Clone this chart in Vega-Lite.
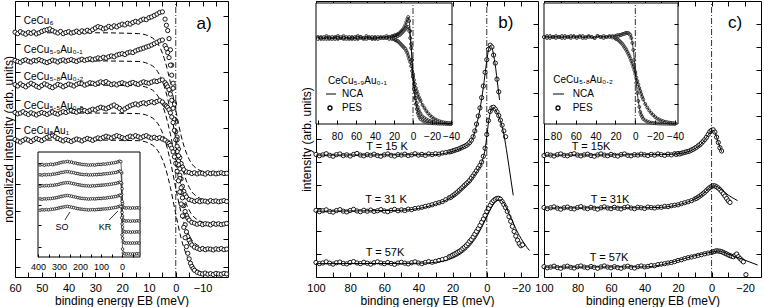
{
"$schema": "https://vega.github.io/schema/vega-lite/v6.json",
"width": 764, "height": 307, "autosize": "none", "padding": 0, "background": "white",
"config": {"view": {"stroke": null}, "font": "Liberation Sans",
 "axis": {"grid": false, "domainColor": "black", "tickColor": "black", "labelColor": "black", "titleColor": "black", "labelFont": "Liberation Sans", "titleFont": "Liberation Sans", "labelFontSize": 11, "titleFontSize": 12, "titleFontWeight": "normal", "tickSize": -5, "labelPadding": 10, "titlePadding": 2, "labelFlush": false, "labelOverlap": false, "domainWidth": 1, "tickWidth": 1},
 "text": {"font": "Liberation Sans", "color": "black"}},
"datasets": {
"am": [
{"s":0,"e":60,"y":8.43},{"s":0,"e":59,"y":8.38},{"s":0,"e":58,"y":8.45},{"s":0,"e":57,"y":8.40},{"s":0,"e":56,"y":8.36},{"s":0,"e":55,"y":8.42},{"s":0,"e":54,"y":8.39},{"s":0,"e":53,"y":8.44},{"s":0,"e":52,"y":8.37},{"s":0,"e":51,"y":8.41},{"s":0,"e":50,"y":8.46},{"s":0,"e":49,"y":8.50},{"s":0,"e":48,"y":8.52},{"s":0,"e":47,"y":8.55},{"s":0,"e":46,"y":8.49},{"s":0,"e":45,"y":8.44},{"s":0,"e":44,"y":8.40},{"s":0,"e":43,"y":8.46},{"s":0,"e":42,"y":8.38},{"s":0,"e":41,"y":8.42},{"s":0,"e":40,"y":8.45},{"s":0,"e":39,"y":8.40},{"s":0,"e":38,"y":8.43},{"s":0,"e":37,"y":8.47},{"s":0,"e":36,"y":8.42},{"s":0,"e":35,"y":8.48},{"s":0,"e":34,"y":8.44},{"s":0,"e":33,"y":8.50},{"s":0,"e":32,"y":8.46},{"s":0,"e":31,"y":8.52},{"s":0,"e":30,"y":8.58},{"s":0,"e":29,"y":8.63},{"s":0,"e":28,"y":8.60},{"s":0,"e":27,"y":8.55},{"s":0,"e":26,"y":8.58},{"s":0,"e":25,"y":8.64},{"s":0,"e":24,"y":8.60},{"s":0,"e":23,"y":8.66},{"s":0,"e":22,"y":8.62},{"s":0,"e":21,"y":8.68},{"s":0,"e":20,"y":8.72},{"s":0,"e":19,"y":8.69},{"s":0,"e":18,"y":8.75},{"s":0,"e":17,"y":8.72},{"s":0,"e":16,"y":8.78},{"s":0,"e":15,"y":8.82},{"s":0,"e":14,"y":8.79},{"s":0,"e":13,"y":8.86},{"s":0,"e":12,"y":8.90},{"s":0,"e":11,"y":8.88},{"s":0,"e":10,"y":8.95},{"s":0,"e":9,"y":8.98},{"s":0,"e":8,"y":9.03},{"s":0,"e":7,"y":9.08},{"s":0,"e":6,"y":9.14},{"s":0,"e":5,"y":9.16},{"s":0,"e":4,"y":8.90},{"s":0,"e":3.5,"y":8.68},{"s":0,"e":3,"y":8.49},{"s":0,"e":2.5,"y":8.20},{"s":0,"e":2,"y":7.80},{"s":0,"e":1.5,"y":7.25},{"s":0,"e":1,"y":6.60},{"s":0,"e":0.5,"y":5.90},{"s":0,"e":0,"y":5.24},{"s":0,"e":-0.5,"y":4.67},{"s":0,"e":-1,"y":4.24},{"s":0,"e":-1.5,"y":3.93},{"s":0,"e":-2,"y":3.72},{"s":0,"e":-2.5,"y":3.59},{"s":0,"e":-3,"y":3.50},{"s":0,"e":-4,"y":3.42},{"s":0,"e":-5,"y":3.40},{"s":0,"e":-6,"y":3.36},{"s":0,"e":-7,"y":3.39},{"s":0,"e":-8,"y":3.35},{"s":0,"e":-9,"y":3.38},{"s":0,"e":-10,"y":3.37},{"s":0,"e":-11,"y":3.34},{"s":0,"e":-12,"y":3.39},{"s":0,"e":-13,"y":3.36},{"s":0,"e":-14,"y":3.38},{"s":0,"e":-15,"y":3.35},{"s":0,"e":-16,"y":3.37},{"s":0,"e":-17,"y":3.39},{"s":0,"e":-18,"y":3.36},{"s":0,"e":-19,"y":3.37},
{"s":1,"e":60,"y":7.42},{"s":1,"e":59,"y":7.38},{"s":1,"e":58,"y":7.35},{"s":1,"e":57,"y":7.41},{"s":1,"e":56,"y":7.44},{"s":1,"e":55,"y":7.39},{"s":1,"e":54,"y":7.36},{"s":1,"e":53,"y":7.42},{"s":1,"e":52,"y":7.40},{"s":1,"e":51,"y":7.45},{"s":1,"e":50,"y":7.41},{"s":1,"e":49,"y":7.37},{"s":1,"e":48,"y":7.34},{"s":1,"e":47,"y":7.38},{"s":1,"e":46,"y":7.43},{"s":1,"e":45,"y":7.40},{"s":1,"e":44,"y":7.36},{"s":1,"e":43,"y":7.41},{"s":1,"e":42,"y":7.44},{"s":1,"e":41,"y":7.39},{"s":1,"e":40,"y":7.42},{"s":1,"e":39,"y":7.45},{"s":1,"e":38,"y":7.41},{"s":1,"e":37,"y":7.38},{"s":1,"e":36,"y":7.43},{"s":1,"e":35,"y":7.46},{"s":1,"e":34,"y":7.42},{"s":1,"e":33,"y":7.45},{"s":1,"e":32,"y":7.48},{"s":1,"e":31,"y":7.44},{"s":1,"e":30,"y":7.47},{"s":1,"e":29,"y":7.51},{"s":1,"e":28,"y":7.48},{"s":1,"e":27,"y":7.53},{"s":1,"e":26,"y":7.50},{"s":1,"e":25,"y":7.55},{"s":1,"e":24,"y":7.58},{"s":1,"e":23,"y":7.55},{"s":1,"e":22,"y":7.61},{"s":1,"e":21,"y":7.64},{"s":1,"e":20,"y":7.66},{"s":1,"e":19,"y":7.63},{"s":1,"e":18,"y":7.69},{"s":1,"e":17,"y":7.72},{"s":1,"e":16,"y":7.70},{"s":1,"e":15,"y":7.76},{"s":1,"e":14,"y":7.80},{"s":1,"e":13,"y":7.83},{"s":1,"e":12,"y":7.86},{"s":1,"e":11,"y":7.90},{"s":1,"e":10,"y":7.93},{"s":1,"e":9,"y":7.97},{"s":1,"e":8,"y":8.02},{"s":1,"e":7,"y":8.07},{"s":1,"e":6,"y":8.12},{"s":1,"e":5,"y":8.15},{"s":1,"e":4,"y":7.95},{"s":1,"e":3.5,"y":7.85},{"s":1,"e":3,"y":7.70},{"s":1,"e":2.5,"y":7.52},{"s":1,"e":2,"y":7.25},{"s":1,"e":1.5,"y":6.89},{"s":1,"e":1,"y":6.42},{"s":1,"e":0.5,"y":5.85},{"s":1,"e":0,"y":5.21},{"s":1,"e":-0.5,"y":4.57},{"s":1,"e":-1,"y":4.00},{"s":1,"e":-1.5,"y":3.53},{"s":1,"e":-2,"y":3.17},{"s":1,"e":-2.5,"y":2.90},{"s":1,"e":-3,"y":2.72},{"s":1,"e":-3.5,"y":2.60},{"s":1,"e":-4,"y":2.52},{"s":1,"e":-5,"y":2.43},{"s":1,"e":-6,"y":2.40},{"s":1,"e":-7,"y":2.36},{"s":1,"e":-8,"y":2.39},{"s":1,"e":-9,"y":2.35},{"s":1,"e":-10,"y":2.38},{"s":1,"e":-11,"y":2.37},{"s":1,"e":-12,"y":2.34},{"s":1,"e":-13,"y":2.39},{"s":1,"e":-14,"y":2.36},{"s":1,"e":-15,"y":2.38},{"s":1,"e":-16,"y":2.35},{"s":1,"e":-17,"y":2.37},{"s":1,"e":-18,"y":2.39},{"s":1,"e":-19,"y":2.36},
{"s":2,"e":60,"y":6.55},{"s":2,"e":59,"y":6.50},{"s":2,"e":58,"y":6.58},{"s":2,"e":57,"y":6.52},{"s":2,"e":56,"y":6.47},{"s":2,"e":55,"y":6.54},{"s":2,"e":54,"y":6.60},{"s":2,"e":53,"y":6.55},{"s":2,"e":52,"y":6.49},{"s":2,"e":51,"y":6.45},{"s":2,"e":50,"y":6.52},{"s":2,"e":49,"y":6.58},{"s":2,"e":48,"y":6.54},{"s":2,"e":47,"y":6.48},{"s":2,"e":46,"y":6.44},{"s":2,"e":45,"y":6.50},{"s":2,"e":44,"y":6.56},{"s":2,"e":43,"y":6.53},{"s":2,"e":42,"y":6.47},{"s":2,"e":41,"y":6.52},{"s":2,"e":40,"y":6.57},{"s":2,"e":39,"y":6.54},{"s":2,"e":38,"y":6.50},{"s":2,"e":37,"y":6.56},{"s":2,"e":36,"y":6.60},{"s":2,"e":35,"y":6.58},{"s":2,"e":34,"y":6.53},{"s":2,"e":33,"y":6.57},{"s":2,"e":32,"y":6.62},{"s":2,"e":31,"y":6.60},{"s":2,"e":30,"y":6.56},{"s":2,"e":29,"y":6.61},{"s":2,"e":28,"y":6.65},{"s":2,"e":27,"y":6.62},{"s":2,"e":26,"y":6.66},{"s":2,"e":25,"y":6.60},{"s":2,"e":24,"y":6.55},{"s":2,"e":23,"y":6.58},{"s":2,"e":22,"y":6.54},{"s":2,"e":21,"y":6.59},{"s":2,"e":20,"y":6.62},{"s":2,"e":19,"y":6.58},{"s":2,"e":18,"y":6.55},{"s":2,"e":17,"y":6.60},{"s":2,"e":16,"y":6.63},{"s":2,"e":15,"y":6.59},{"s":2,"e":14,"y":6.56},{"s":2,"e":13,"y":6.61},{"s":2,"e":12,"y":6.65},{"s":2,"e":11,"y":6.62},{"s":2,"e":10,"y":6.60},{"s":2,"e":9,"y":6.64},{"s":2,"e":8,"y":6.68},{"s":2,"e":7,"y":6.66},{"s":2,"e":6,"y":6.70},{"s":2,"e":5,"y":6.72},{"s":2,"e":4,"y":6.62},{"s":2,"e":3.5,"y":6.55},{"s":2,"e":3,"y":6.47},{"s":2,"e":2.5,"y":6.37},{"s":2,"e":2,"y":6.21},{"s":2,"e":1.5,"y":5.99},{"s":2,"e":1,"y":5.70},{"s":2,"e":0.5,"y":5.31},{"s":2,"e":0,"y":4.86},{"s":2,"e":-0.5,"y":4.34},{"s":2,"e":-1,"y":3.81},{"s":2,"e":-1.5,"y":3.30},{"s":2,"e":-2,"y":2.85},{"s":2,"e":-2.5,"y":2.49},{"s":2,"e":-3,"y":2.21},{"s":2,"e":-3.5,"y":2.00},{"s":2,"e":-4,"y":1.86},{"s":2,"e":-4.5,"y":1.76},{"s":2,"e":-5,"y":1.69},{"s":2,"e":-6,"y":1.61},{"s":2,"e":-7,"y":1.58},{"s":2,"e":-8,"y":1.54},{"s":2,"e":-9,"y":1.57},{"s":2,"e":-10,"y":1.53},{"s":2,"e":-11,"y":1.56},{"s":2,"e":-12,"y":1.55},{"s":2,"e":-13,"y":1.52},{"s":2,"e":-14,"y":1.57},{"s":2,"e":-15,"y":1.54},{"s":2,"e":-16,"y":1.56},{"s":2,"e":-17,"y":1.53},{"s":2,"e":-18,"y":1.55},{"s":2,"e":-19,"y":1.57},
{"s":3,"e":60,"y":5.55},{"s":3,"e":59,"y":5.50},{"s":3,"e":58,"y":5.53},{"s":3,"e":57,"y":5.58},{"s":3,"e":56,"y":5.52},{"s":3,"e":55,"y":5.48},{"s":3,"e":54,"y":5.54},{"s":3,"e":53,"y":5.50},{"s":3,"e":52,"y":5.46},{"s":3,"e":51,"y":5.51},{"s":3,"e":50,"y":5.55},{"s":3,"e":49,"y":5.52},{"s":3,"e":48,"y":5.48},{"s":3,"e":47,"y":5.53},{"s":3,"e":46,"y":5.57},{"s":3,"e":45,"y":5.52},{"s":3,"e":44,"y":5.49},{"s":3,"e":43,"y":5.54},{"s":3,"e":42,"y":5.58},{"s":3,"e":41,"y":5.55},{"s":3,"e":40,"y":5.60},{"s":3,"e":39,"y":5.63},{"s":3,"e":38,"y":5.59},{"s":3,"e":37,"y":5.56},{"s":3,"e":36,"y":5.61},{"s":3,"e":35,"y":5.65},{"s":3,"e":34,"y":5.62},{"s":3,"e":33,"y":5.58},{"s":3,"e":32,"y":5.63},{"s":3,"e":31,"y":5.67},{"s":3,"e":30,"y":5.64},{"s":3,"e":29,"y":5.70},{"s":3,"e":28,"y":5.74},{"s":3,"e":27,"y":5.71},{"s":3,"e":26,"y":5.68},{"s":3,"e":25,"y":5.73},{"s":3,"e":24,"y":5.78},{"s":3,"e":23,"y":5.82},{"s":3,"e":22,"y":5.76},{"s":3,"e":21,"y":5.70},{"s":3,"e":20,"y":5.62},{"s":3,"e":19,"y":5.68},{"s":3,"e":18,"y":5.74},{"s":3,"e":17,"y":5.79},{"s":3,"e":16,"y":5.83},{"s":3,"e":15,"y":5.86},{"s":3,"e":14,"y":5.82},{"s":3,"e":13,"y":5.87},{"s":3,"e":12,"y":5.90},{"s":3,"e":11,"y":5.86},{"s":3,"e":10,"y":5.91},{"s":3,"e":9,"y":5.94},{"s":3,"e":8,"y":5.90},{"s":3,"e":7,"y":5.95},{"s":3,"e":6,"y":5.98},{"s":3,"e":5,"y":5.93},{"s":3,"e":4,"y":5.82},{"s":3,"e":3.5,"y":5.78},{"s":3,"e":3,"y":5.73},{"s":3,"e":2.5,"y":5.65},{"s":3,"e":2,"y":5.54},{"s":3,"e":1.5,"y":5.39},{"s":3,"e":1,"y":5.19},{"s":3,"e":0.5,"y":4.91},{"s":3,"e":0,"y":4.57},{"s":3,"e":-0.5,"y":4.15},{"s":3,"e":-1,"y":3.68},{"s":3,"e":-1.5,"y":3.18},{"s":3,"e":-2,"y":2.68},{"s":3,"e":-2.5,"y":2.23},{"s":3,"e":-3,"y":1.84},{"s":3,"e":-3.5,"y":1.52},{"s":3,"e":-4,"y":1.27},{"s":3,"e":-4.5,"y":1.10},{"s":3,"e":-5,"y":0.96},{"s":3,"e":-5.5,"y":0.87},{"s":3,"e":-6,"y":0.80},{"s":3,"e":-7,"y":0.72},{"s":3,"e":-8,"y":0.68},{"s":3,"e":-9,"y":0.64},{"s":3,"e":-10,"y":0.67},{"s":3,"e":-11,"y":0.63},{"s":3,"e":-12,"y":0.66},{"s":3,"e":-13,"y":0.65},{"s":3,"e":-14,"y":0.62},{"s":3,"e":-15,"y":0.66},{"s":3,"e":-16,"y":0.64},{"s":3,"e":-17,"y":0.67},{"s":3,"e":-18,"y":0.63},{"s":3,"e":-19,"y":0.65},
{"s":4,"e":60,"y":4.58},{"s":4,"e":59,"y":4.53},{"s":4,"e":58,"y":4.49},{"s":4,"e":57,"y":4.55},{"s":4,"e":56,"y":4.60},{"s":4,"e":55,"y":4.56},{"s":4,"e":54,"y":4.51},{"s":4,"e":53,"y":4.57},{"s":4,"e":52,"y":4.62},{"s":4,"e":51,"y":4.58},{"s":4,"e":50,"y":4.54},{"s":4,"e":49,"y":4.60},{"s":4,"e":48,"y":4.66},{"s":4,"e":47,"y":4.70},{"s":4,"e":46,"y":4.74},{"s":4,"e":45,"y":4.68},{"s":4,"e":44,"y":4.62},{"s":4,"e":43,"y":4.57},{"s":4,"e":42,"y":4.53},{"s":4,"e":41,"y":4.58},{"s":4,"e":40,"y":4.55},{"s":4,"e":39,"y":4.51},{"s":4,"e":38,"y":4.56},{"s":4,"e":37,"y":4.60},{"s":4,"e":36,"y":4.57},{"s":4,"e":35,"y":4.53},{"s":4,"e":34,"y":4.58},{"s":4,"e":33,"y":4.62},{"s":4,"e":32,"y":4.59},{"s":4,"e":31,"y":4.55},{"s":4,"e":30,"y":4.60},{"s":4,"e":29,"y":4.64},{"s":4,"e":28,"y":4.61},{"s":4,"e":27,"y":4.66},{"s":4,"e":26,"y":4.70},{"s":4,"e":25,"y":4.67},{"s":4,"e":24,"y":4.63},{"s":4,"e":23,"y":4.68},{"s":4,"e":22,"y":4.72},{"s":4,"e":21,"y":4.69},{"s":4,"e":20,"y":4.65},{"s":4,"e":19,"y":4.61},{"s":4,"e":18,"y":4.66},{"s":4,"e":17,"y":4.70},{"s":4,"e":16,"y":4.67},{"s":4,"e":15,"y":4.72},{"s":4,"e":14,"y":4.68},{"s":4,"e":13,"y":4.64},{"s":4,"e":12,"y":4.69},{"s":4,"e":11,"y":4.72},{"s":4,"e":10,"y":4.67},{"s":4,"e":9,"y":4.63},{"s":4,"e":8,"y":4.66},{"s":4,"e":7,"y":4.62},{"s":4,"e":6,"y":4.65},{"s":4,"e":5,"y":4.60},{"s":4,"e":4,"y":4.56},{"s":4,"e":3,"y":4.49},{"s":4,"e":2.5,"y":4.44},{"s":4,"e":2,"y":4.37},{"s":4,"e":1.5,"y":4.27},{"s":4,"e":1,"y":4.14},{"s":4,"e":0.5,"y":3.96},{"s":4,"e":0,"y":3.73},{"s":4,"e":-0.5,"y":3.44},{"s":4,"e":-1,"y":3.10},{"s":4,"e":-1.5,"y":2.70},{"s":4,"e":-2,"y":2.27},{"s":4,"e":-2.5,"y":1.84},{"s":4,"e":-3,"y":1.43},{"s":4,"e":-3.5,"y":1.06},{"s":4,"e":-4,"y":0.74},{"s":4,"e":-4.5,"y":0.50},{"s":4,"e":-5,"y":0.30},{"s":4,"e":-5.5,"y":0.14},{"s":4,"e":-6,"y":0.03},{"s":4,"e":-6.5,"y":-0.05},{"s":4,"e":-7,"y":-0.11},{"s":4,"e":-8,"y":-0.18},{"s":4,"e":-9,"y":-0.22},{"s":4,"e":-10,"y":-0.24},{"s":4,"e":-11,"y":-0.21},{"s":4,"e":-12,"y":-0.25},{"s":4,"e":-13,"y":-0.23},{"s":4,"e":-14,"y":-0.26},{"s":4,"e":-15,"y":-0.22},{"s":4,"e":-16,"y":-0.24},{"s":4,"e":-17,"y":-0.25},{"s":4,"e":-18,"y":-0.22},{"s":4,"e":-19,"y":-0.24}
],
"ad": [
{"s":0,"e":60,"y":8.41},{"s":0,"e":30,"y":8.41},{"s":0,"e":14,"y":8.38},{"s":0,"e":10,"y":8.29},{"s":0,"e":8,"y":8.17},{"s":0,"e":6,"y":7.90},{"s":0,"e":4,"y":7.40},{"s":0,"e":2,"y":6.62},{"s":0,"e":0,"y":5.63},{"s":0,"e":-2,"y":4.72},{"s":0,"e":-4,"y":4.09},{"s":0,"e":-6,"y":3.71},{"s":0,"e":-8,"y":3.53},{"s":0,"e":-10,"y":3.44},{"s":0,"e":-14,"y":3.38},
{"s":1,"e":60,"y":7.40},{"s":1,"e":30,"y":7.40},{"s":1,"e":14,"y":7.38},{"s":1,"e":10,"y":7.29},{"s":1,"e":8,"y":7.17},{"s":1,"e":6,"y":6.89},{"s":1,"e":4,"y":6.40},{"s":1,"e":2,"y":5.62},{"s":1,"e":0,"y":4.63},{"s":1,"e":-2,"y":3.72},{"s":1,"e":-4,"y":3.09},{"s":1,"e":-6,"y":2.71},{"s":1,"e":-8,"y":2.53},{"s":1,"e":-10,"y":2.44},{"s":1,"e":-14,"y":2.38},
{"s":2,"e":60,"y":6.53},{"s":2,"e":30,"y":6.53},{"s":2,"e":14,"y":6.51},{"s":2,"e":10,"y":6.42},{"s":2,"e":8,"y":6.30},{"s":2,"e":6,"y":6.03},{"s":2,"e":4,"y":5.54},{"s":2,"e":2,"y":4.77},{"s":2,"e":0,"y":3.79},{"s":2,"e":-2,"y":2.89},{"s":2,"e":-4,"y":2.26},{"s":2,"e":-6,"y":1.89},{"s":2,"e":-8,"y":1.71},{"s":2,"e":-10,"y":1.62},{"s":2,"e":-14,"y":1.56},
{"s":3,"e":60,"y":5.53},{"s":3,"e":30,"y":5.53},{"s":3,"e":14,"y":5.51},{"s":3,"e":10,"y":5.42},{"s":3,"e":8,"y":5.30},{"s":3,"e":6,"y":5.04},{"s":3,"e":4,"y":4.56},{"s":3,"e":2,"y":3.80},{"s":3,"e":0,"y":2.84},{"s":3,"e":-2,"y":1.96},{"s":3,"e":-4,"y":1.35},{"s":3,"e":-6,"y":0.98},{"s":3,"e":-8,"y":0.80},{"s":3,"e":-10,"y":0.72},{"s":3,"e":-14,"y":0.66},
{"s":4,"e":60,"y":4.56},{"s":4,"e":30,"y":4.56},{"s":4,"e":14,"y":4.54},{"s":4,"e":10,"y":4.45},{"s":4,"e":8,"y":4.33},{"s":4,"e":6,"y":4.07},{"s":4,"e":4,"y":3.61},{"s":4,"e":2,"y":2.86},{"s":4,"e":0,"y":1.91},{"s":4,"e":-2,"y":1.04},{"s":4,"e":-4,"y":0.44},{"s":4,"e":-6,"y":0.08},{"s":4,"e":-8,"y":-0.10},{"s":4,"e":-10,"y":-0.18},{"s":4,"e":-14,"y":-0.24}
],
"ai": [
{"s":0,"e":390,"y":8.76},{"s":0,"e":380,"y":8.81},{"s":0,"e":370,"y":8.74},{"s":0,"e":360,"y":8.80},{"s":0,"e":350,"y":8.78},{"s":0,"e":340,"y":8.84},{"s":0,"e":330,"y":8.80},{"s":0,"e":320,"y":8.86},{"s":0,"e":310,"y":8.88},{"s":0,"e":300,"y":8.95},{"s":0,"e":290,"y":9.00},{"s":0,"e":280,"y":9.05},{"s":0,"e":270,"y":9.05},{"s":0,"e":260,"y":9.10},{"s":0,"e":250,"y":9.05},{"s":0,"e":240,"y":9.04},{"s":0,"e":230,"y":8.96},{"s":0,"e":220,"y":8.95},{"s":0,"e":210,"y":8.88},{"s":0,"e":200,"y":8.86},{"s":0,"e":190,"y":8.81},{"s":0,"e":180,"y":8.80},{"s":0,"e":170,"y":8.78},{"s":0,"e":160,"y":8.75},{"s":0,"e":150,"y":8.77},{"s":0,"e":140,"y":8.78},{"s":0,"e":130,"y":8.75},{"s":0,"e":120,"y":8.80},{"s":0,"e":110,"y":8.82},{"s":0,"e":100,"y":8.81},{"s":0,"e":90,"y":8.86},{"s":0,"e":80,"y":8.84},{"s":0,"e":70,"y":8.89},{"s":0,"e":60,"y":8.90},{"s":0,"e":50,"y":8.95},{"s":0,"e":40,"y":8.96},{"s":0,"e":30,"y":9.01},{"s":0,"e":20,"y":9.06},{"s":0,"e":12,"y":9.12},{"s":0,"e":6,"y":9.08},{"s":0,"e":2,"y":8.0},{"s":0,"e":0,"y":6.5},{"s":0,"e":-2,"y":5.1},{"s":0,"e":-6,"y":4.75},{"s":0,"e":-12,"y":4.68},{"s":0,"e":-20,"y":4.66},{"s":0,"e":-30,"y":4.69},{"s":0,"e":-40,"y":4.65},{"s":0,"e":-50,"y":4.68},{"s":0,"e":-60,"y":4.66},{"s":0,"e":-70,"y":4.69},{"s":0,"e":-80,"y":4.67},
{"s":1,"e":390,"y":7.83},{"s":1,"e":380,"y":7.80},{"s":1,"e":370,"y":7.85},{"s":1,"e":360,"y":7.82},{"s":1,"e":350,"y":7.86},{"s":1,"e":340,"y":7.84},{"s":1,"e":330,"y":7.89},{"s":1,"e":320,"y":7.90},{"s":1,"e":310,"y":7.95},{"s":1,"e":300,"y":7.98},{"s":1,"e":290,"y":8.05},{"s":1,"e":280,"y":8.07},{"s":1,"e":270,"y":8.12},{"s":1,"e":260,"y":8.13},{"s":1,"e":250,"y":8.10},{"s":1,"e":240,"y":8.06},{"s":1,"e":230,"y":8.03},{"s":1,"e":220,"y":7.97},{"s":1,"e":210,"y":7.94},{"s":1,"e":200,"y":7.89},{"s":1,"e":190,"y":7.87},{"s":1,"e":180,"y":7.84},{"s":1,"e":170,"y":7.86},{"s":1,"e":160,"y":7.81},{"s":1,"e":150,"y":7.83},{"s":1,"e":140,"y":7.82},{"s":1,"e":130,"y":7.85},{"s":1,"e":120,"y":7.84},{"s":1,"e":110,"y":7.88},{"s":1,"e":100,"y":7.86},{"s":1,"e":90,"y":7.91},{"s":1,"e":80,"y":7.92},{"s":1,"e":70,"y":7.94},{"s":1,"e":60,"y":7.97},{"s":1,"e":50,"y":7.99},{"s":1,"e":40,"y":8.03},{"s":1,"e":30,"y":8.05},{"s":1,"e":20,"y":8.12},{"s":1,"e":12,"y":8.18},{"s":1,"e":6,"y":8.13},{"s":1,"e":2,"y":7.0},{"s":1,"e":0,"y":5.3},{"s":1,"e":-2,"y":3.9},{"s":1,"e":-6,"y":3.52},{"s":1,"e":-12,"y":3.45},{"s":1,"e":-20,"y":3.42},{"s":1,"e":-30,"y":3.45},{"s":1,"e":-40,"y":3.41},{"s":1,"e":-50,"y":3.44},{"s":1,"e":-60,"y":3.42},{"s":1,"e":-70,"y":3.45},{"s":1,"e":-80,"y":3.43},
{"s":2,"e":390,"y":6.74},{"s":2,"e":380,"y":6.79},{"s":2,"e":370,"y":6.77},{"s":2,"e":360,"y":6.81},{"s":2,"e":350,"y":6.78},{"s":2,"e":340,"y":6.83},{"s":2,"e":330,"y":6.82},{"s":2,"e":320,"y":6.86},{"s":2,"e":310,"y":6.88},{"s":2,"e":300,"y":6.93},{"s":2,"e":290,"y":6.99},{"s":2,"e":280,"y":7.04},{"s":2,"e":270,"y":7.06},{"s":2,"e":260,"y":7.08},{"s":2,"e":250,"y":7.07},{"s":2,"e":240,"y":7.02},{"s":2,"e":230,"y":6.97},{"s":2,"e":220,"y":6.94},{"s":2,"e":210,"y":6.89},{"s":2,"e":200,"y":6.86},{"s":2,"e":190,"y":6.82},{"s":2,"e":180,"y":6.80},{"s":2,"e":170,"y":6.78},{"s":2,"e":160,"y":6.77},{"s":2,"e":150,"y":6.75},{"s":2,"e":140,"y":6.79},{"s":2,"e":130,"y":6.77},{"s":2,"e":120,"y":6.80},{"s":2,"e":110,"y":6.82},{"s":2,"e":100,"y":6.84},{"s":2,"e":90,"y":6.85},{"s":2,"e":80,"y":6.87},{"s":2,"e":70,"y":6.89},{"s":2,"e":60,"y":6.92},{"s":2,"e":50,"y":6.94},{"s":2,"e":40,"y":6.98},{"s":2,"e":30,"y":7.01},{"s":2,"e":20,"y":7.07},{"s":2,"e":12,"y":7.13},{"s":2,"e":6,"y":7.08},{"s":2,"e":2,"y":5.95},{"s":2,"e":0,"y":4.25},{"s":2,"e":-2,"y":2.85},{"s":2,"e":-6,"y":2.47},{"s":2,"e":-12,"y":2.40},{"s":2,"e":-20,"y":2.37},{"s":2,"e":-30,"y":2.40},{"s":2,"e":-40,"y":2.36},{"s":2,"e":-50,"y":2.39},{"s":2,"e":-60,"y":2.37},{"s":2,"e":-70,"y":2.40},{"s":2,"e":-80,"y":2.38},
{"s":3,"e":390,"y":5.54},{"s":3,"e":380,"y":5.50},{"s":3,"e":370,"y":5.55},{"s":3,"e":360,"y":5.53},{"s":3,"e":350,"y":5.57},{"s":3,"e":340,"y":5.56},{"s":3,"e":330,"y":5.60},{"s":3,"e":320,"y":5.62},{"s":3,"e":310,"y":5.66},{"s":3,"e":300,"y":5.71},{"s":3,"e":290,"y":5.76},{"s":3,"e":280,"y":5.80},{"s":3,"e":270,"y":5.84},{"s":3,"e":260,"y":5.86},{"s":3,"e":250,"y":5.83},{"s":3,"e":240,"y":5.79},{"s":3,"e":230,"y":5.74},{"s":3,"e":220,"y":5.70},{"s":3,"e":210,"y":5.65},{"s":3,"e":200,"y":5.61},{"s":3,"e":190,"y":5.58},{"s":3,"e":180,"y":5.56},{"s":3,"e":170,"y":5.54},{"s":3,"e":160,"y":5.52},{"s":3,"e":150,"y":5.53},{"s":3,"e":140,"y":5.55},{"s":3,"e":130,"y":5.53},{"s":3,"e":120,"y":5.56},{"s":3,"e":110,"y":5.58},{"s":3,"e":100,"y":5.57},{"s":3,"e":90,"y":5.61},{"s":3,"e":80,"y":5.60},{"s":3,"e":70,"y":5.64},{"s":3,"e":60,"y":5.67},{"s":3,"e":50,"y":5.70},{"s":3,"e":40,"y":5.73},{"s":3,"e":30,"y":5.76},{"s":3,"e":20,"y":5.82},{"s":3,"e":12,"y":5.88},{"s":3,"e":6,"y":5.84},{"s":3,"e":2,"y":4.77},{"s":3,"e":0,"y":3.15},{"s":3,"e":-2,"y":1.80},{"s":3,"e":-6,"y":1.42},{"s":3,"e":-12,"y":1.35},{"s":3,"e":-20,"y":1.32},{"s":3,"e":-30,"y":1.35},{"s":3,"e":-40,"y":1.31},{"s":3,"e":-50,"y":1.34},{"s":3,"e":-60,"y":1.32},{"s":3,"e":-70,"y":1.35},{"s":3,"e":-80,"y":1.33},
{"s":4,"e":390,"y":4.46},{"s":4,"e":380,"y":4.50},{"s":4,"e":370,"y":4.48},{"s":4,"e":360,"y":4.52},{"s":4,"e":350,"y":4.49},{"s":4,"e":340,"y":4.54},{"s":4,"e":330,"y":4.55},{"s":4,"e":320,"y":4.58},{"s":4,"e":310,"y":4.62},{"s":4,"e":300,"y":4.67},{"s":4,"e":290,"y":4.72},{"s":4,"e":280,"y":4.76},{"s":4,"e":270,"y":4.79},{"s":4,"e":260,"y":4.82},{"s":4,"e":250,"y":4.78},{"s":4,"e":240,"y":4.74},{"s":4,"e":230,"y":4.70},{"s":4,"e":220,"y":4.65},{"s":4,"e":210,"y":4.61},{"s":4,"e":200,"y":4.57},{"s":4,"e":190,"y":4.55},{"s":4,"e":180,"y":4.52},{"s":4,"e":170,"y":4.51},{"s":4,"e":160,"y":4.48},{"s":4,"e":150,"y":4.50},{"s":4,"e":140,"y":4.51},{"s":4,"e":130,"y":4.49},{"s":4,"e":120,"y":4.52},{"s":4,"e":110,"y":4.54},{"s":4,"e":100,"y":4.55},{"s":4,"e":90,"y":4.57},{"s":4,"e":80,"y":4.58},{"s":4,"e":70,"y":4.60},{"s":4,"e":60,"y":4.63},{"s":4,"e":50,"y":4.66},{"s":4,"e":40,"y":4.69},{"s":4,"e":30,"y":4.72},{"s":4,"e":20,"y":4.78},{"s":4,"e":12,"y":4.84},{"s":4,"e":6,"y":4.80},{"s":4,"e":2,"y":3.73},{"s":4,"e":0,"y":2.11},{"s":4,"e":-2,"y":0.76},{"s":4,"e":-6,"y":0.38},{"s":4,"e":-12,"y":0.31},{"s":4,"e":-20,"y":0.28},{"s":4,"e":-30,"y":0.31},{"s":4,"e":-40,"y":0.27},{"s":4,"e":-50,"y":0.30},{"s":4,"e":-60,"y":0.28},{"s":4,"e":-70,"y":0.31},{"s":4,"e":-80,"y":0.29}
],
"bm": [
{"s":15,"e":100,"y":5.33},{"s":15,"e":98,"y":5.27},{"s":15,"e":96,"y":5.31},{"s":15,"e":94,"y":5.36},{"s":15,"e":92,"y":5.29},{"s":15,"e":90,"y":5.25},{"s":15,"e":88,"y":5.32},{"s":15,"e":86,"y":5.35},{"s":15,"e":84,"y":5.28},{"s":15,"e":82,"y":5.31},{"s":15,"e":80,"y":5.26},{"s":15,"e":78,"y":5.33},{"s":15,"e":76,"y":5.37},{"s":15,"e":74,"y":5.30},{"s":15,"e":72,"y":5.27},{"s":15,"e":70,"y":5.32},{"s":15,"e":68,"y":5.29},{"s":15,"e":66,"y":5.34},{"s":15,"e":64,"y":5.28},{"s":15,"e":62,"y":5.25},{"s":15,"e":60,"y":5.31},{"s":15,"e":58,"y":5.35},{"s":15,"e":56,"y":5.29},{"s":15,"e":54,"y":5.26},{"s":15,"e":52,"y":5.32},{"s":15,"e":50,"y":5.30},{"s":15,"e":48,"y":5.34},{"s":15,"e":46,"y":5.28},{"s":15,"e":44,"y":5.31},{"s":15,"e":42,"y":5.36},{"s":15,"e":40,"y":5.30},{"s":15,"e":38,"y":5.33},{"s":15,"e":36,"y":5.29},{"s":15,"e":34,"y":5.35},{"s":15,"e":32,"y":5.32},{"s":15,"e":30,"y":5.36},{"s":15,"e":28,"y":5.34},{"s":15,"e":26,"y":5.39},{"s":15,"e":24,"y":5.41},{"s":15,"e":22,"y":5.44},{"s":15,"e":21,"y":5.45},{"s":15,"e":20,"y":5.48},{"s":15,"e":19,"y":5.50},{"s":15,"e":18,"y":5.53},{"s":15,"e":17,"y":5.55},{"s":15,"e":16,"y":5.58},{"s":15,"e":15,"y":5.62},{"s":15,"e":14,"y":5.65},{"s":15,"e":13,"y":5.68},{"s":15,"e":12,"y":5.72},{"s":15,"e":11,"y":5.78},{"s":15,"e":10,"y":5.85},{"s":15,"e":9,"y":5.95},{"s":15,"e":8,"y":6.10},{"s":15,"e":7,"y":6.35},{"s":15,"e":6,"y":6.65},{"s":15,"e":5,"y":7.00},{"s":15,"e":4,"y":7.35},{"s":15,"e":3,"y":7.80},{"s":15,"e":2,"y":8.30},{"s":15,"e":1,"y":8.90},{"s":15,"e":0,"y":9.45},{"s":15,"e":-1,"y":9.90},{"s":15,"e":-2,"y":10.08},{"s":15,"e":-3,"y":10.00},{"s":15,"e":-4,"y":9.65},{"s":15,"e":-5,"y":9.30},{"s":15,"e":-6,"y":8.60},{"s":15,"e":-7,"y":8.05},
{"s":31,"e":100,"y":2.90},{"s":31,"e":98,"y":2.84},{"s":31,"e":96,"y":2.88},{"s":31,"e":94,"y":2.92},{"s":31,"e":92,"y":2.85},{"s":31,"e":90,"y":2.82},{"s":31,"e":88,"y":2.89},{"s":31,"e":86,"y":2.93},{"s":31,"e":84,"y":2.86},{"s":31,"e":82,"y":2.83},{"s":31,"e":80,"y":2.89},{"s":31,"e":78,"y":2.94},{"s":31,"e":76,"y":2.87},{"s":31,"e":74,"y":2.84},{"s":31,"e":72,"y":2.90},{"s":31,"e":70,"y":2.86},{"s":31,"e":68,"y":2.91},{"s":31,"e":66,"y":2.85},{"s":31,"e":64,"y":2.88},{"s":31,"e":62,"y":2.93},{"s":31,"e":60,"y":2.87},{"s":31,"e":58,"y":2.84},{"s":31,"e":56,"y":2.90},{"s":31,"e":54,"y":2.94},{"s":31,"e":52,"y":2.88},{"s":31,"e":50,"y":2.92},{"s":31,"e":48,"y":2.89},{"s":31,"e":46,"y":2.95},{"s":31,"e":44,"y":2.93},{"s":31,"e":42,"y":2.98},{"s":31,"e":40,"y":3.00},{"s":31,"e":38,"y":3.03},{"s":31,"e":36,"y":3.07},{"s":31,"e":34,"y":3.10},{"s":31,"e":32,"y":3.14},{"s":31,"e":30,"y":3.19},{"s":31,"e":28,"y":3.23},{"s":31,"e":26,"y":3.28},{"s":31,"e":24,"y":3.36},{"s":31,"e":22,"y":3.44},{"s":31,"e":21,"y":3.47},{"s":31,"e":20,"y":3.53},{"s":31,"e":19,"y":3.58},{"s":31,"e":18,"y":3.64},{"s":31,"e":17,"y":3.70},{"s":31,"e":16,"y":3.77},{"s":31,"e":15,"y":3.84},{"s":31,"e":14,"y":3.91},{"s":31,"e":13,"y":3.98},{"s":31,"e":12,"y":4.05},{"s":31,"e":11,"y":4.12},{"s":31,"e":10,"y":4.20},{"s":31,"e":9,"y":4.30},{"s":31,"e":8,"y":4.40},{"s":31,"e":7,"y":4.51},{"s":31,"e":6,"y":4.62},{"s":31,"e":5,"y":4.74},{"s":31,"e":4,"y":4.85},{"s":31,"e":3,"y":5.00},{"s":31,"e":2,"y":5.25},{"s":31,"e":1,"y":5.60},{"s":31,"e":0,"y":6.20},{"s":31,"e":-1,"y":6.80},{"s":31,"e":-2,"y":7.20},{"s":31,"e":-3,"y":7.36},{"s":31,"e":-4,"y":7.38},{"s":31,"e":-5,"y":7.30},{"s":31,"e":-6,"y":7.18},{"s":31,"e":-7,"y":7.02},{"s":31,"e":-8,"y":6.82},{"s":31,"e":-9,"y":6.60},{"s":31,"e":-10,"y":6.35},{"s":31,"e":-11,"y":6.10},
{"s":57,"e":100,"y":0.63},{"s":57,"e":98,"y":0.58},{"s":57,"e":96,"y":0.61},{"s":57,"e":94,"y":0.66},{"s":57,"e":92,"y":0.60},{"s":57,"e":90,"y":0.56},{"s":57,"e":88,"y":0.62},{"s":57,"e":86,"y":0.65},{"s":57,"e":84,"y":0.59},{"s":57,"e":82,"y":0.57},{"s":57,"e":80,"y":0.63},{"s":57,"e":78,"y":0.67},{"s":57,"e":76,"y":0.61},{"s":57,"e":74,"y":0.58},{"s":57,"e":72,"y":0.64},{"s":57,"e":70,"y":0.60},{"s":57,"e":68,"y":0.56},{"s":57,"e":66,"y":0.62},{"s":57,"e":64,"y":0.66},{"s":57,"e":62,"y":0.61},{"s":57,"e":60,"y":0.58},{"s":57,"e":58,"y":0.63},{"s":57,"e":56,"y":0.59},{"s":57,"e":54,"y":0.55},{"s":57,"e":52,"y":0.61},{"s":57,"e":50,"y":0.64},{"s":57,"e":48,"y":0.60},{"s":57,"e":46,"y":0.57},{"s":57,"e":44,"y":0.62},{"s":57,"e":42,"y":0.66},{"s":57,"e":40,"y":0.61},{"s":57,"e":38,"y":0.58},{"s":57,"e":36,"y":0.63},{"s":57,"e":34,"y":0.67},{"s":57,"e":32,"y":0.64},{"s":57,"e":30,"y":0.68},{"s":57,"e":28,"y":0.72},{"s":57,"e":26,"y":0.76},{"s":57,"e":24,"y":0.80},{"s":57,"e":22,"y":0.88},{"s":57,"e":21,"y":0.91},{"s":57,"e":20,"y":0.95},{"s":57,"e":19,"y":0.99},{"s":57,"e":18,"y":1.03},{"s":57,"e":17,"y":1.08},{"s":57,"e":16,"y":1.12},{"s":57,"e":15,"y":1.17},{"s":57,"e":14,"y":1.24},{"s":57,"e":13,"y":1.30},{"s":57,"e":12,"y":1.37},{"s":57,"e":11,"y":1.45},{"s":57,"e":10,"y":1.55},{"s":57,"e":9,"y":1.63},{"s":57,"e":8,"y":1.74},{"s":57,"e":7,"y":1.86},{"s":57,"e":6,"y":1.98},{"s":57,"e":5,"y":2.10},{"s":57,"e":4,"y":2.24},{"s":57,"e":3,"y":2.38},{"s":57,"e":2,"y":2.52},{"s":57,"e":1,"y":2.68},{"s":57,"e":0,"y":2.85},{"s":57,"e":-1,"y":2.98},{"s":57,"e":-2,"y":3.12},{"s":57,"e":-3,"y":3.24},{"s":57,"e":-4,"y":3.32},{"s":57,"e":-5,"y":3.38},{"s":57,"e":-6,"y":3.42},{"s":57,"e":-7,"y":3.42},{"s":57,"e":-8,"y":3.38},{"s":57,"e":-9,"y":3.28},{"s":57,"e":-10,"y":3.15},{"s":57,"e":-11,"y":3.02},{"s":57,"e":-12,"y":2.85},{"s":57,"e":-13,"y":2.62},{"s":57,"e":-14,"y":2.42},{"s":57,"e":-15,"y":2.20},{"s":57,"e":-16,"y":1.98},{"s":57,"e":-17,"y":1.78},{"s":57,"e":-18,"y":1.60},{"s":57,"e":-19,"y":1.45},{"s":57,"e":-20,"y":1.36},{"s":57,"e":-21,"y":1.40}
],
"bn": [
{"s":15,"e":100,"y":5.30},{"s":15,"e":30,"y":5.32},{"s":15,"e":25,"y":5.37},{"s":15,"e":20,"y":5.46},{"s":15,"e":15,"y":5.60},{"s":15,"e":12,"y":5.71},{"s":15,"e":10,"y":5.83},{"s":15,"e":8,"y":6.08},{"s":15,"e":6,"y":6.6},{"s":15,"e":4,"y":7.3},{"s":15,"e":2,"y":8.25},{"s":15,"e":0,"y":9.4},{"s":15,"e":-1,"y":9.88},{"s":15,"e":-2,"y":10.05},{"s":15,"e":-3,"y":9.97},{"s":15,"e":-4,"y":9.65},{"s":15,"e":-5,"y":9.2},{"s":15,"e":-6,"y":8.6},{"s":15,"e":-7.5,"y":7.7},
{"s":31,"e":100,"y":2.86},{"s":31,"e":50,"y":2.90},{"s":31,"e":40,"y":2.98},{"s":31,"e":30,"y":3.17},{"s":31,"e":20,"y":3.50},{"s":31,"e":15,"y":3.80},{"s":31,"e":10,"y":4.16},{"s":31,"e":6,"y":4.58},{"s":31,"e":3,"y":4.98},{"s":31,"e":1,"y":5.55},{"s":31,"e":0,"y":6.1},{"s":31,"e":-1,"y":6.72},{"s":31,"e":-2,"y":7.15},{"s":31,"e":-3,"y":7.33},{"s":31,"e":-4,"y":7.36},{"s":31,"e":-6,"y":7.15},{"s":31,"e":-8,"y":6.8},{"s":31,"e":-10,"y":6.2},{"s":31,"e":-12,"y":5.3},{"s":31,"e":-14,"y":4.3},{"s":31,"e":-15.5,"y":3.55},
{"s":57,"e":100,"y":0.58},{"s":57,"e":50,"y":0.59},{"s":57,"e":35,"y":0.61},{"s":57,"e":30,"y":0.64},{"s":57,"e":25,"y":0.70},{"s":57,"e":20,"y":0.82},{"s":57,"e":15,"y":1.02},{"s":57,"e":10,"y":1.35},{"s":57,"e":6,"y":1.75},{"s":57,"e":3,"y":2.15},{"s":57,"e":0,"y":2.62},{"s":57,"e":-3,"y":3.05},{"s":57,"e":-6,"y":3.32},{"s":57,"e":-8,"y":3.35},{"s":57,"e":-10,"y":3.2},{"s":57,"e":-14,"y":2.6},{"s":57,"e":-18,"y":1.95},{"s":57,"e":-22,"y":1.45},{"s":57,"e":-25,"y":1.15}
],
"bi": [
{"s":"A","e":100,"y":0.87},{"s":"A","e":97,"y":0.85},{"s":"A","e":94,"y":0.86},{"s":"A","e":91,"y":0.88},{"s":"A","e":88,"y":0.85},{"s":"A","e":85,"y":0.86},{"s":"A","e":82,"y":0.87},{"s":"A","e":79,"y":0.85},{"s":"A","e":76,"y":0.86},{"s":"A","e":73,"y":0.88},{"s":"A","e":70,"y":0.86},{"s":"A","e":67,"y":0.85},{"s":"A","e":64,"y":0.87},{"s":"A","e":61,"y":0.86},{"s":"A","e":58,"y":0.85},{"s":"A","e":55,"y":0.87},{"s":"A","e":52,"y":0.86},{"s":"A","e":49,"y":0.88},{"s":"A","e":46,"y":0.86},{"s":"A","e":43,"y":0.85},{"s":"A","e":40,"y":0.87},{"s":"A","e":37,"y":0.86},{"s":"A","e":34,"y":0.87},{"s":"A","e":31,"y":0.86},{"s":"A","e":28,"y":0.88},{"s":"A","e":25,"y":0.87},{"s":"A","e":22,"y":0.88},{"s":"A","e":20,"y":0.88},{"s":"A","e":19,"y":0.89},{"s":"A","e":18,"y":0.88},{"s":"A","e":17,"y":0.89},{"s":"A","e":16,"y":0.90},{"s":"A","e":15,"y":0.90},{"s":"A","e":14,"y":0.91},{"s":"A","e":13,"y":0.92},{"s":"A","e":12,"y":0.93},{"s":"A","e":11,"y":0.94},{"s":"A","e":10,"y":0.95},{"s":"A","e":9,"y":0.97},{"s":"A","e":8,"y":0.99},{"s":"A","e":7,"y":1.02},{"s":"A","e":6,"y":1.05},{"s":"A","e":5,"y":1.07},{"s":"A","e":4,"y":1.03},{"s":"A","e":3,"y":0.93},{"s":"A","e":2,"y":0.80},{"s":"A","e":1,"y":0.64},{"s":"A","e":0,"y":0.47},{"s":"A","e":-1,"y":0.35},{"s":"A","e":-2,"y":0.26},{"s":"A","e":-3,"y":0.20},{"s":"A","e":-4,"y":0.15},{"s":"A","e":-5,"y":0.11},{"s":"A","e":-6,"y":0.085},{"s":"A","e":-7,"y":0.065},{"s":"A","e":-8,"y":0.05},{"s":"A","e":-10,"y":0.035},{"s":"A","e":-12,"y":0.025},{"s":"A","e":-14,"y":0.018},{"s":"A","e":-16,"y":0.014},{"s":"A","e":-18,"y":0.011},{"s":"A","e":-20,"y":0.009},{"s":"A","e":-22,"y":0.007},{"s":"A","e":-24,"y":0.006},{"s":"A","e":-26,"y":0.005},{"s":"A","e":-28,"y":0.004},{"s":"A","e":-30,"y":0.004},{"s":"A","e":-32,"y":0.003},{"s":"A","e":-34,"y":0.003},{"s":"A","e":-36,"y":0.002},{"s":"A","e":-38,"y":0.002},{"s":"A","e":-40,"y":0.002},
{"s":"B","e":100,"y":0.86},{"s":"B","e":97,"y":0.87},{"s":"B","e":94,"y":0.85},{"s":"B","e":91,"y":0.86},{"s":"B","e":88,"y":0.87},{"s":"B","e":85,"y":0.85},{"s":"B","e":82,"y":0.86},{"s":"B","e":79,"y":0.88},{"s":"B","e":76,"y":0.86},{"s":"B","e":73,"y":0.85},{"s":"B","e":70,"y":0.87},{"s":"B","e":67,"y":0.86},{"s":"B","e":64,"y":0.85},{"s":"B","e":61,"y":0.87},{"s":"B","e":58,"y":0.88},{"s":"B","e":55,"y":0.86},{"s":"B","e":52,"y":0.85},{"s":"B","e":49,"y":0.86},{"s":"B","e":46,"y":0.87},{"s":"B","e":43,"y":0.86},{"s":"B","e":40,"y":0.85},{"s":"B","e":37,"y":0.87},{"s":"B","e":34,"y":0.86},{"s":"B","e":31,"y":0.87},{"s":"B","e":28,"y":0.86},{"s":"B","e":25,"y":0.87},{"s":"B","e":22,"y":0.87},{"s":"B","e":20,"y":0.87},{"s":"B","e":19,"y":0.88},{"s":"B","e":18,"y":0.87},{"s":"B","e":17,"y":0.88},{"s":"B","e":16,"y":0.88},{"s":"B","e":15,"y":0.89},{"s":"B","e":14,"y":0.89},{"s":"B","e":13,"y":0.90},{"s":"B","e":12,"y":0.91},{"s":"B","e":11,"y":0.92},{"s":"B","e":10,"y":0.93},{"s":"B","e":9,"y":0.94},{"s":"B","e":8,"y":0.95},{"s":"B","e":7,"y":0.96},{"s":"B","e":6,"y":0.97},{"s":"B","e":5,"y":0.97},{"s":"B","e":4,"y":0.93},{"s":"B","e":3,"y":0.86},{"s":"B","e":2,"y":0.76},{"s":"B","e":1,"y":0.64},{"s":"B","e":0,"y":0.50},{"s":"B","e":-1,"y":0.40},{"s":"B","e":-2,"y":0.32},{"s":"B","e":-3,"y":0.26},{"s":"B","e":-4,"y":0.21},{"s":"B","e":-5,"y":0.17},{"s":"B","e":-6,"y":0.14},{"s":"B","e":-7,"y":0.115},{"s":"B","e":-8,"y":0.10},{"s":"B","e":-10,"y":0.075},{"s":"B","e":-12,"y":0.06},{"s":"B","e":-14,"y":0.047},{"s":"B","e":-16,"y":0.037},{"s":"B","e":-18,"y":0.03},{"s":"B","e":-20,"y":0.024},{"s":"B","e":-22,"y":0.019},{"s":"B","e":-24,"y":0.015},{"s":"B","e":-26,"y":0.012},{"s":"B","e":-28,"y":0.01},{"s":"B","e":-30,"y":0.008},{"s":"B","e":-32,"y":0.007},{"s":"B","e":-34,"y":0.006},{"s":"B","e":-36,"y":0.005},{"s":"B","e":-38,"y":0.004},{"s":"B","e":-40,"y":0.004},
{"s":"C","e":100,"y":0.85},{"s":"C","e":97,"y":0.86},{"s":"C","e":94,"y":0.87},{"s":"C","e":91,"y":0.85},{"s":"C","e":88,"y":0.86},{"s":"C","e":85,"y":0.87},{"s":"C","e":82,"y":0.85},{"s":"C","e":79,"y":0.86},{"s":"C","e":76,"y":0.87},{"s":"C","e":73,"y":0.86},{"s":"C","e":70,"y":0.85},{"s":"C","e":67,"y":0.87},{"s":"C","e":64,"y":0.86},{"s":"C","e":61,"y":0.85},{"s":"C","e":58,"y":0.86},{"s":"C","e":55,"y":0.87},{"s":"C","e":52,"y":0.86},{"s":"C","e":49,"y":0.85},{"s":"C","e":46,"y":0.86},{"s":"C","e":43,"y":0.87},{"s":"C","e":40,"y":0.86},{"s":"C","e":37,"y":0.85},{"s":"C","e":34,"y":0.86},{"s":"C","e":31,"y":0.86},{"s":"C","e":28,"y":0.86},{"s":"C","e":25,"y":0.85},{"s":"C","e":22,"y":0.85},{"s":"C","e":20,"y":0.85},{"s":"C","e":19,"y":0.84},{"s":"C","e":18,"y":0.84},{"s":"C","e":17,"y":0.83},{"s":"C","e":16,"y":0.83},{"s":"C","e":15,"y":0.82},{"s":"C","e":14,"y":0.81},{"s":"C","e":13,"y":0.80},{"s":"C","e":12,"y":0.79},{"s":"C","e":11,"y":0.78},{"s":"C","e":10,"y":0.77},{"s":"C","e":9,"y":0.76},{"s":"C","e":8,"y":0.75},{"s":"C","e":7,"y":0.73},{"s":"C","e":6,"y":0.71},{"s":"C","e":5,"y":0.68},{"s":"C","e":4,"y":0.65},{"s":"C","e":3,"y":0.62},{"s":"C","e":2,"y":0.58},{"s":"C","e":1,"y":0.53},{"s":"C","e":0,"y":0.48},{"s":"C","e":-1,"y":0.44},{"s":"C","e":-2,"y":0.40},{"s":"C","e":-3,"y":0.36},{"s":"C","e":-4,"y":0.33},{"s":"C","e":-5,"y":0.30},{"s":"C","e":-6,"y":0.27},{"s":"C","e":-7,"y":0.25},{"s":"C","e":-8,"y":0.23},{"s":"C","e":-10,"y":0.19},{"s":"C","e":-12,"y":0.16},{"s":"C","e":-14,"y":0.13},{"s":"C","e":-16,"y":0.105},{"s":"C","e":-18,"y":0.085},{"s":"C","e":-20,"y":0.068},{"s":"C","e":-22,"y":0.054},{"s":"C","e":-24,"y":0.043},{"s":"C","e":-26,"y":0.034},{"s":"C","e":-28,"y":0.027},{"s":"C","e":-30,"y":0.021},{"s":"C","e":-32,"y":0.017},{"s":"C","e":-34,"y":0.013},{"s":"C","e":-36,"y":0.01},{"s":"C","e":-38,"y":0.008},{"s":"C","e":-40,"y":0.006}
],
"cm": [
{"s":15,"e":100,"y":5.28},{"s":15,"e":98,"y":5.33},{"s":15,"e":96,"y":5.30},{"s":15,"e":94,"y":5.26},{"s":15,"e":92,"y":5.32},{"s":15,"e":90,"y":5.35},{"s":15,"e":88,"y":5.29},{"s":15,"e":86,"y":5.27},{"s":15,"e":84,"y":5.33},{"s":15,"e":82,"y":5.36},{"s":15,"e":80,"y":5.30},{"s":15,"e":78,"y":5.27},{"s":15,"e":76,"y":5.31},{"s":15,"e":74,"y":5.34},{"s":15,"e":72,"y":5.28},{"s":15,"e":70,"y":5.25},{"s":15,"e":68,"y":5.31},{"s":15,"e":66,"y":5.35},{"s":15,"e":64,"y":5.30},{"s":15,"e":62,"y":5.27},{"s":15,"e":60,"y":5.33},{"s":15,"e":58,"y":5.29},{"s":15,"e":56,"y":5.26},{"s":15,"e":54,"y":5.32},{"s":15,"e":52,"y":5.35},{"s":15,"e":50,"y":5.29},{"s":15,"e":48,"y":5.27},{"s":15,"e":46,"y":5.32},{"s":15,"e":44,"y":5.30},{"s":15,"e":42,"y":5.34},{"s":15,"e":40,"y":5.31},{"s":15,"e":38,"y":5.28},{"s":15,"e":36,"y":5.33},{"s":15,"e":34,"y":5.30},{"s":15,"e":32,"y":5.35},{"s":15,"e":30,"y":5.32},{"s":15,"e":28,"y":5.29},{"s":15,"e":26,"y":5.34},{"s":15,"e":24,"y":5.31},{"s":15,"e":22,"y":5.36},{"s":15,"e":21,"y":5.33},{"s":15,"e":20,"y":5.37},{"s":15,"e":19,"y":5.35},{"s":15,"e":18,"y":5.38},{"s":15,"e":17,"y":5.40},{"s":15,"e":16,"y":5.42},{"s":15,"e":15,"y":5.44},{"s":15,"e":14,"y":5.46},{"s":15,"e":13,"y":5.48},{"s":15,"e":12,"y":5.52},{"s":15,"e":11,"y":5.55},{"s":15,"e":10,"y":5.60},{"s":15,"e":9,"y":5.64},{"s":15,"e":8,"y":5.70},{"s":15,"e":7,"y":5.75},{"s":15,"e":6,"y":5.82},{"s":15,"e":5,"y":5.90},{"s":15,"e":4,"y":5.98},{"s":15,"e":3,"y":6.08},{"s":15,"e":2,"y":6.20},{"s":15,"e":1,"y":6.32},{"s":15,"e":0,"y":6.38},{"s":15,"e":-1,"y":6.40},{"s":15,"e":-2,"y":6.30},{"s":15,"e":-3,"y":6.08},{"s":15,"e":-4,"y":5.85},{"s":15,"e":-5,"y":5.62},{"s":15,"e":-6,"y":5.48},
{"s":31,"e":100,"y":3.02},{"s":31,"e":98,"y":2.97},{"s":31,"e":96,"y":3.01},{"s":31,"e":94,"y":3.05},{"s":31,"e":92,"y":2.99},{"s":31,"e":90,"y":2.95},{"s":31,"e":88,"y":3.01},{"s":31,"e":86,"y":3.04},{"s":31,"e":84,"y":2.98},{"s":31,"e":82,"y":2.96},{"s":31,"e":80,"y":3.02},{"s":31,"e":78,"y":3.06},{"s":31,"e":76,"y":3.00},{"s":31,"e":74,"y":2.97},{"s":31,"e":72,"y":3.03},{"s":31,"e":70,"y":2.99},{"s":31,"e":68,"y":2.95},{"s":31,"e":66,"y":3.01},{"s":31,"e":64,"y":3.05},{"s":31,"e":62,"y":3.00},{"s":31,"e":60,"y":2.97},{"s":31,"e":58,"y":3.03},{"s":31,"e":56,"y":2.99},{"s":31,"e":54,"y":2.96},{"s":31,"e":52,"y":3.02},{"s":31,"e":50,"y":3.05},{"s":31,"e":48,"y":3.00},{"s":31,"e":46,"y":2.97},{"s":31,"e":44,"y":3.03},{"s":31,"e":42,"y":3.01},{"s":31,"e":40,"y":2.98},{"s":31,"e":38,"y":3.04},{"s":31,"e":36,"y":3.02},{"s":31,"e":34,"y":3.00},{"s":31,"e":32,"y":3.04},{"s":31,"e":30,"y":3.03},{"s":31,"e":28,"y":3.07},{"s":31,"e":26,"y":3.06},{"s":31,"e":24,"y":3.10},{"s":31,"e":22,"y":3.12},{"s":31,"e":20,"y":3.14},{"s":31,"e":18,"y":3.19},{"s":31,"e":16,"y":3.23},{"s":31,"e":14,"y":3.27},{"s":31,"e":12,"y":3.32},{"s":31,"e":10,"y":3.39},{"s":31,"e":9,"y":3.42},{"s":31,"e":8,"y":3.47},{"s":31,"e":7,"y":3.52},{"s":31,"e":6,"y":3.57},{"s":31,"e":5,"y":3.63},{"s":31,"e":4,"y":3.69},{"s":31,"e":3,"y":3.76},{"s":31,"e":2,"y":3.83},{"s":31,"e":1,"y":3.89},{"s":31,"e":0,"y":3.94},{"s":31,"e":-1,"y":3.97},{"s":31,"e":-2,"y":3.96},{"s":31,"e":-3,"y":3.92},{"s":31,"e":-4,"y":3.87},{"s":31,"e":-5,"y":3.80},{"s":31,"e":-6,"y":3.72},{"s":31,"e":-7,"y":3.62},{"s":31,"e":-8,"y":3.52},{"s":31,"e":-9,"y":3.41},{"s":31,"e":-10,"y":3.31},{"s":31,"e":-11,"y":3.24},
{"s":57,"e":100,"y":0.45},{"s":57,"e":98,"y":0.40},{"s":57,"e":96,"y":0.43},{"s":57,"e":94,"y":0.47},{"s":57,"e":92,"y":0.41},{"s":57,"e":90,"y":0.38},{"s":57,"e":88,"y":0.44},{"s":57,"e":86,"y":0.47},{"s":57,"e":84,"y":0.42},{"s":57,"e":82,"y":0.39},{"s":57,"e":80,"y":0.45},{"s":57,"e":78,"y":0.48},{"s":57,"e":76,"y":0.43},{"s":57,"e":74,"y":0.40},{"s":57,"e":72,"y":0.46},{"s":57,"e":70,"y":0.42},{"s":57,"e":68,"y":0.38},{"s":57,"e":66,"y":0.44},{"s":57,"e":64,"y":0.48},{"s":57,"e":62,"y":0.43},{"s":57,"e":60,"y":0.40},{"s":57,"e":58,"y":0.45},{"s":57,"e":56,"y":0.41},{"s":57,"e":54,"y":0.38},{"s":57,"e":52,"y":0.44},{"s":57,"e":50,"y":0.47},{"s":57,"e":48,"y":0.42},{"s":57,"e":46,"y":0.39},{"s":57,"e":44,"y":0.45},{"s":57,"e":42,"y":0.48},{"s":57,"e":40,"y":0.44},{"s":57,"e":38,"y":0.46},{"s":57,"e":36,"y":0.50},{"s":57,"e":34,"y":0.49},{"s":57,"e":32,"y":0.54},{"s":57,"e":30,"y":0.56},{"s":57,"e":28,"y":0.58},{"s":57,"e":26,"y":0.61},{"s":57,"e":24,"y":0.63},{"s":57,"e":22,"y":0.67},{"s":57,"e":20,"y":0.72},{"s":57,"e":18,"y":0.75},{"s":57,"e":16,"y":0.80},{"s":57,"e":14,"y":0.84},{"s":57,"e":12,"y":0.87},{"s":57,"e":10,"y":0.90},{"s":57,"e":8,"y":0.94},{"s":57,"e":6,"y":0.97},{"s":57,"e":4,"y":1.01},{"s":57,"e":2,"y":1.04},{"s":57,"e":0,"y":1.07},{"s":57,"e":-1,"y":1.10},{"s":57,"e":-2,"y":1.12},{"s":57,"e":-3,"y":1.14},{"s":57,"e":-4,"y":1.13},{"s":57,"e":-5,"y":1.12},{"s":57,"e":-6,"y":1.10},{"s":57,"e":-7,"y":1.07},{"s":57,"e":-8,"y":1.03},{"s":57,"e":-9,"y":1.00},{"s":57,"e":-10,"y":0.96},{"s":57,"e":-11,"y":0.93},{"s":57,"e":-12,"y":0.90},{"s":57,"e":-13,"y":0.88},{"s":57,"e":-14,"y":0.94},{"s":57,"e":-15,"y":1.00},{"s":57,"e":-16,"y":0.88},{"s":57,"e":-17,"y":0.80},{"s":57,"e":-18,"y":0.73},{"s":57,"e":-19,"y":0.66},{"s":57,"e":-20.5,"y":0.10}
],
"cn": [
{"s":15,"e":100,"y":5.30},{"s":15,"e":30,"y":5.32},{"s":15,"e":20,"y":5.36},{"s":15,"e":10,"y":5.58},{"s":15,"e":5,"y":5.88},{"s":15,"e":2,"y":6.18},{"s":15,"e":0,"y":6.36},{"s":15,"e":-1,"y":6.38},{"s":15,"e":-2,"y":6.28},{"s":15,"e":-4,"y":5.85},{"s":15,"e":-6,"y":5.45},
{"s":31,"e":100,"y":3.0},{"s":31,"e":40,"y":3.01},{"s":31,"e":30,"y":3.03},{"s":31,"e":20,"y":3.14},{"s":31,"e":10,"y":3.39},{"s":31,"e":5,"y":3.62},{"s":31,"e":2,"y":3.83},{"s":31,"e":0,"y":3.94},{"s":31,"e":-2,"y":3.96},{"s":31,"e":-5,"y":3.84},{"s":31,"e":-10,"y":3.56},{"s":31,"e":-15.5,"y":3.32},
{"s":57,"e":100,"y":0.43},{"s":57,"e":40,"y":0.44},{"s":57,"e":30,"y":0.53},{"s":57,"e":20,"y":0.72},{"s":57,"e":10,"y":0.92},{"s":57,"e":0,"y":1.08},{"s":57,"e":-4,"y":1.13},{"s":57,"e":-10,"y":0.99},{"s":57,"e":-20,"y":0.73},{"s":57,"e":-27.5,"y":0.52}
],
"ci": [
{"s":"U","e":92,"y":0.87},{"s":"U","e":89,"y":0.88},{"s":"U","e":86,"y":0.86},{"s":"U","e":83,"y":0.87},{"s":"U","e":80,"y":0.88},{"s":"U","e":77,"y":0.87},{"s":"U","e":74,"y":0.86},{"s":"U","e":71,"y":0.88},{"s":"U","e":68,"y":0.87},{"s":"U","e":65,"y":0.86},{"s":"U","e":62,"y":0.88},{"s":"U","e":59,"y":0.87},{"s":"U","e":56,"y":0.88},{"s":"U","e":53,"y":0.86},{"s":"U","e":50,"y":0.87},{"s":"U","e":47,"y":0.88},{"s":"U","e":44,"y":0.87},{"s":"U","e":41,"y":0.86},{"s":"U","e":38,"y":0.88},{"s":"U","e":35,"y":0.87},{"s":"U","e":32,"y":0.88},{"s":"U","e":29,"y":0.87},{"s":"U","e":26,"y":0.88},{"s":"U","e":23,"y":0.88},{"s":"U","e":20,"y":0.88},{"s":"U","e":19,"y":0.88},{"s":"U","e":18,"y":0.89},{"s":"U","e":17,"y":0.88},{"s":"U","e":16,"y":0.89},{"s":"U","e":15,"y":0.89},{"s":"U","e":14,"y":0.89},{"s":"U","e":13,"y":0.90},{"s":"U","e":12,"y":0.90},{"s":"U","e":11,"y":0.90},{"s":"U","e":10,"y":0.91},{"s":"U","e":9,"y":0.91},{"s":"U","e":8,"y":0.91},{"s":"U","e":7,"y":0.91},{"s":"U","e":6,"y":0.90},{"s":"U","e":5,"y":0.89},{"s":"U","e":4,"y":0.86},{"s":"U","e":3,"y":0.81},{"s":"U","e":2,"y":0.74},{"s":"U","e":1,"y":0.64},{"s":"U","e":0,"y":0.52},{"s":"U","e":-1,"y":0.41},{"s":"U","e":-2,"y":0.31},{"s":"U","e":-3,"y":0.23},{"s":"U","e":-4,"y":0.17},{"s":"U","e":-5,"y":0.12},{"s":"U","e":-6,"y":0.09},{"s":"U","e":-7,"y":0.07},{"s":"U","e":-8,"y":0.05},{"s":"U","e":-10,"y":0.035},{"s":"U","e":-12,"y":0.025},{"s":"U","e":-14,"y":0.018},{"s":"U","e":-16,"y":0.013},{"s":"U","e":-18,"y":0.01},{"s":"U","e":-20,"y":0.008},{"s":"U","e":-22,"y":0.006},{"s":"U","e":-24,"y":0.005},{"s":"U","e":-26,"y":0.004},{"s":"U","e":-28,"y":0.004},{"s":"U","e":-30,"y":0.003},{"s":"U","e":-32,"y":0.003},{"s":"U","e":-34,"y":0.002},{"s":"U","e":-36,"y":0.002},{"s":"U","e":-38,"y":0.002},{"s":"U","e":-40,"y":0.002},
{"s":"D","e":92,"y":0.87},{"s":"D","e":89,"y":0.86},{"s":"D","e":86,"y":0.88},{"s":"D","e":83,"y":0.87},{"s":"D","e":80,"y":0.86},{"s":"D","e":77,"y":0.87},{"s":"D","e":74,"y":0.88},{"s":"D","e":71,"y":0.86},{"s":"D","e":68,"y":0.87},{"s":"D","e":65,"y":0.88},{"s":"D","e":62,"y":0.87},{"s":"D","e":59,"y":0.86},{"s":"D","e":56,"y":0.87},{"s":"D","e":53,"y":0.88},{"s":"D","e":50,"y":0.86},{"s":"D","e":47,"y":0.87},{"s":"D","e":44,"y":0.87},{"s":"D","e":41,"y":0.86},{"s":"D","e":38,"y":0.88},{"s":"D","e":35,"y":0.87},{"s":"D","e":32,"y":0.86},{"s":"D","e":29,"y":0.87},{"s":"D","e":26,"y":0.87},{"s":"D","e":23,"y":0.865},{"s":"D","e":20,"y":0.855},{"s":"D","e":19,"y":0.85},{"s":"D","e":18,"y":0.845},{"s":"D","e":17,"y":0.84},{"s":"D","e":16,"y":0.83},{"s":"D","e":15,"y":0.82},{"s":"D","e":14,"y":0.81},{"s":"D","e":13,"y":0.80},{"s":"D","e":12,"y":0.785},{"s":"D","e":11,"y":0.77},{"s":"D","e":10,"y":0.755},{"s":"D","e":9,"y":0.74},{"s":"D","e":8,"y":0.72},{"s":"D","e":7,"y":0.70},{"s":"D","e":6,"y":0.68},{"s":"D","e":5,"y":0.655},{"s":"D","e":4,"y":0.63},{"s":"D","e":3,"y":0.60},{"s":"D","e":2,"y":0.57},{"s":"D","e":1,"y":0.54},{"s":"D","e":0,"y":0.50},{"s":"D","e":-1,"y":0.465},{"s":"D","e":-2,"y":0.43},{"s":"D","e":-3,"y":0.395},{"s":"D","e":-4,"y":0.36},{"s":"D","e":-5,"y":0.33},{"s":"D","e":-6,"y":0.30},{"s":"D","e":-7,"y":0.27},{"s":"D","e":-8,"y":0.245},{"s":"D","e":-10,"y":0.20},{"s":"D","e":-12,"y":0.165},{"s":"D","e":-14,"y":0.135},{"s":"D","e":-16,"y":0.11},{"s":"D","e":-18,"y":0.09},{"s":"D","e":-20,"y":0.07},{"s":"D","e":-22,"y":0.055},{"s":"D","e":-24,"y":0.045},{"s":"D","e":-26,"y":0.035},{"s":"D","e":-28,"y":0.028},{"s":"D","e":-30,"y":0.022},{"s":"D","e":-32,"y":0.018},{"s":"D","e":-34,"y":0.014},{"s":"D","e":-36,"y":0.011},{"s":"D","e":-38,"y":0.009},{"s":"D","e":-40,"y":0.007}
]
},
"layer": [
{
 "encoding": {
  "x": {"field": "e", "type": "quantitative", "scale": {"domain": [60, -19.5], "range": [15, 228], "nice": false, "zero": false}, "axis": {"orient": "bottom", "offset": -30, "values": [60,55,50,45,40,35,30,25,20,15,10,5,0,-5,-10,-15], "labelExpr": "datum.value % 10 === 0 ? datum.label : ''", "title": "binding energy EB (meV)"}},
  "y": {"field": "y", "type": "quantitative", "scale": {"domain": [-0.35, 9.55], "range": [277, 1], "nice": false, "zero": false}, "axis": {"orient": "left", "offset": -15, "values": [0,1,2,3,4,5,6,7,8,9], "labels": false, "title": "normalized intensity (arb. units)", "titlePadding": -1}}
 },
 "layer": [
  {"data": {"name": "ad"}, "mark": {"type": "line", "color": "black", "strokeWidth": 1, "strokeDash": [5, 3], "interpolate": "monotone"}, "encoding": {"detail": {"field": "s"}}},
  {"data": {"name": "am"}, "mark": {"type": "point", "shape": "circle", "filled": true, "fill": "white", "stroke": "black", "strokeWidth": 0.9, "size": 18, "opacity": 1}},
  {"data": {"values": [{"e": 0, "y": -0.35, "y2": 9.55}]}, "mark": {"type": "rule", "color": "black", "strokeDash": [6, 2, 1, 2], "strokeWidth": 0.8}, "encoding": {"y2": {"field": "y2"}}},
  {"data": {"values": [{"e": 56.7, "y": 8.83, "t": "CeCu₆"}, {"e": 56.7, "y": 7.79, "t": "CeCu₅.₉Au₀.₁"}, {"e": 56.7, "y": 6.82, "t": "CeCu₅.₈Au₀.₂"}, {"e": 56.7, "y": 5.78, "t": "CeCu₅.₅Au₀.₅"}, {"e": 56.7, "y": 4.89, "t": "CeCu₅Au₁"}]}, "mark": {"type": "text", "align": "left", "baseline": "middle", "fontSize": 10}, "encoding": {"text": {"field": "t"}}},
  {"data": {"values": [{"e": -10.6, "y": 8.72, "t": "a)"}]}, "mark": {"type": "text", "align": "center", "baseline": "middle", "fontSize": 17}, "encoding": {"text": {"field": "t"}}}
 ]
},
{
 "data": {"values": [{"e": 0, "y": 0}]}, "mark": {"type": "point", "opacity": 0},
 "encoding": {
  "x": {"field": "e", "type": "quantitative", "scale": {"domain": [60, -19.5], "range": [15, 228], "nice": false, "zero": false}, "axis": {"orient": "top", "offset": -1, "values": [60,55,50,45,40,35,30,25,20,15,10,5,0,-5,-10,-15], "labels": false, "title": null}},
  "y": {"field": "y", "type": "quantitative", "scale": {"domain": [-0.35, 9.55], "range": [277, 1], "nice": false, "zero": false}, "axis": {"orient": "right", "offset": -536, "values": [0,1,2,3,4,5,6,7,8,9], "labels": false, "title": null}}
 }
},
{
 "encoding": {
  "x": {"field": "e", "type": "quantitative", "scale": {"domain": [400, -85], "range": [38, 140], "nice": false, "zero": false}, "axis": {"orient": "bottom", "offset": -50, "values": [400,350,300,250,200,150,100,50,0,-50], "labelExpr": "datum.value % 100 === 0 ? datum.label : ''", "title": null, "labelFontSize": 9, "tickSize": -3, "labelPadding": 8, "domain": false, "zindex": 1}},
  "y": {"field": "y", "type": "quantitative", "scale": {"domain": [0, 10], "range": [257, 152], "nice": false, "zero": false}, "axis": {"orient": "left", "offset": -38, "values": [1,3,5,7,9], "labels": false, "title": null, "tickSize": -3, "domain": false, "zindex": 1}}
 },
 "layer": [
  {"data": {"values": [{"e": 400, "e2": -85, "y": 0, "y2": 10}]}, "mark": {"type": "rect", "fill": "white", "stroke": "black", "strokeWidth": 1}, "encoding": {"x2": {"field": "e2"}, "y2": {"field": "y2"}}},
  {"data": {"name": "ai"}, "mark": {"type": "line", "color": "black", "strokeWidth": 0.6}, "encoding": {"detail": {"field": "s"}}},
  {"data": {"name": "ai"}, "mark": {"type": "point", "shape": "circle", "filled": true, "fill": "white", "stroke": "black", "strokeWidth": 0.7, "size": 7, "opacity": 1}},
  {"data": {"values": [{"e": 286, "y": 2.86, "t": "SO"}, {"e": 81, "y": 2.86, "t": "KR"}]}, "mark": {"type": "text", "fontSize": 9, "baseline": "middle", "align": "center"}, "encoding": {"text": {"field": "t"}}},
  {"data": {"values": [{"e": 272, "y": 3.52, "e2": 248, "y2": 4.29}, {"e": 62, "y": 3.52, "e2": 20, "y2": 4.38}]}, "mark": {"type": "rule", "color": "black", "strokeWidth": 0.8}, "encoding": {"x2": {"field": "e2"}, "y2": {"field": "y2"}}}
 ]
},
{
 "encoding": {
  "x": {"field": "e", "type": "quantitative", "scale": {"domain": [100, -30], "range": [316, 538], "nice": false, "zero": false}, "axis": {"orient": "bottom", "offset": -30, "values": [100,90,80,70,60,50,40,30,20,10,0,-10,-20], "labelExpr": "datum.value % 20 === 0 ? datum.label : ''", "title": "binding energy EB (meV)"}},
  "y": {"field": "y", "type": "quantitative", "scale": {"domain": [0, 12], "range": [277, 1], "nice": false, "zero": false}, "axis": {"orient": "left", "offset": -316, "values": [1,2,3,4,5,6,7,8,9,10,11], "labels": false, "title": "intensity (arb. units)", "titlePadding": 2}}
 },
 "layer": [
  {"data": {"name": "bm"}, "mark": {"type": "point", "shape": "circle", "filled": true, "fill": "white", "stroke": "black", "strokeWidth": 0.9, "size": 18, "opacity": 1}},
  {"data": {"name": "bn"}, "mark": {"type": "line", "color": "black", "strokeWidth": 1, "interpolate": "monotone"}, "encoding": {"detail": {"field": "s"}}},
  {"data": {"values": [{"e": 0, "y": 0, "y2": 12}]}, "mark": {"type": "rule", "color": "black", "strokeDash": [6, 2, 1, 2], "strokeWidth": 0.8}, "encoding": {"y2": {"field": "y2"}}},
  {"data": {"values": [{"e": 58.4, "y": 5.65, "t": "T = 15 K"}, {"e": 59, "y": 3.35, "t": "T = 31 K"}, {"e": 59.6, "y": 1.04, "t": "T = 57K"}]}, "mark": {"type": "text", "align": "center", "baseline": "middle", "fontSize": 11}, "encoding": {"text": {"field": "t"}}},
  {"data": {"values": [{"e": -11.2, "y": 11.04, "t": "b)"}]}, "mark": {"type": "text", "align": "center", "baseline": "middle", "fontSize": 17}, "encoding": {"text": {"field": "t"}}}
 ]
},
{
 "data": {"values": [{"e": 0, "y": 0}]}, "mark": {"type": "point", "opacity": 0},
 "encoding": {
  "x": {"field": "e", "type": "quantitative", "scale": {"domain": [100, -30], "range": [316, 538], "nice": false, "zero": false}, "axis": {"orient": "top", "offset": -1, "values": [100,90,80,70,60,50,40,30,20,10,0,-10,-20], "labels": false, "title": null}},
  "y": {"field": "y", "type": "quantitative", "scale": {"domain": [0, 12], "range": [277, 1], "nice": false, "zero": false}, "axis": {"orient": "right", "offset": -226, "values": [1,2,3,4,5,6,7,8,9,10,11], "labels": false, "title": null}}
 }
},
{
 "encoding": {
  "x": {"field": "e", "type": "quantitative", "scale": {"domain": [102, -41], "range": [316, 452], "nice": false, "zero": false}, "axis": {"orient": "bottom", "offset": -183, "values": [100,80,60,40,20,0,-20,-40], "labelExpr": "datum.value === 100 ? '' : datum.label", "title": null, "labelFontSize": 10, "tickSize": -4, "labelPadding": 11, "domain": false, "zindex": 1}},
  "y": {"field": "y", "type": "quantitative", "scale": {"domain": [0, 1.21], "range": [124, 3], "nice": false, "zero": false}, "axis": {"orient": "right", "offset": -312, "values": [0.2,0.4,0.6,0.8,1.0], "labels": false, "title": null, "tickSize": -4, "domain": false, "zindex": 1}}
 },
 "layer": [
  {"data": {"values": [{"e": 102, "e2": -41, "y": 0, "y2": 1.21}]}, "mark": {"type": "rect", "fill": "white", "stroke": "black", "strokeWidth": 1}, "encoding": {"x2": {"field": "e2"}, "y2": {"field": "y2"}}},
  {"data": {"values": [{"e": 0, "y": 0, "y2": 1.21}]}, "mark": {"type": "rule", "color": "black", "strokeDash": [6, 2, 1, 2], "strokeWidth": 0.8}, "encoding": {"y2": {"field": "y2"}}},
  {"data": {"name": "bi"}, "mark": {"type": "point", "shape": "circle", "filled": true, "fill": "white", "stroke": "black", "strokeWidth": 0.7, "size": 9, "opacity": 1}},
  {"data": {"name": "bi"}, "mark": {"type": "line", "color": "black", "strokeWidth": 0.8, "interpolate": "monotone"}, "encoding": {"detail": {"field": "s"}}},
  {"data": {"values": [{"e": 89.4, "y": 0.43, "t": "CeCu₅.₉Au₀.₁"}, {"e": 74.7, "y": 0.30, "t": "NCA"}, {"e": 74.7, "y": 0.16, "t": "PES"}]}, "mark": {"type": "text", "align": "left", "baseline": "middle", "fontSize": 10}, "encoding": {"text": {"field": "t"}}},
  {"data": {"values": [{"e": 91.5, "e2": 81, "y": 0.30}]}, "mark": {"type": "rule", "color": "black", "strokeWidth": 1}, "encoding": {"x2": {"field": "e2"}}},
  {"data": {"values": [{"e": 87.3, "y": 0.16}]}, "mark": {"type": "point", "shape": "circle", "filled": false, "color": "black", "strokeWidth": 1.3, "size": 16, "opacity": 1}}
 ]
},
{
 "encoding": {
  "x": {"field": "e", "type": "quantitative", "scale": {"domain": [100, -29.5], "range": [544, 761], "nice": false, "zero": false}, "axis": {"orient": "bottom", "offset": -30, "values": [100,90,80,70,60,50,40,30,20,10,0,-10,-20], "labelExpr": "datum.value % 20 === 0 ? datum.label : ''", "title": "binding energy EB (meV)"}},
  "y": {"field": "y", "type": "quantitative", "scale": {"domain": [0, 12], "range": [277, 1], "nice": false, "zero": false}, "axis": {"orient": "left", "offset": -544, "values": [1,2,3,4,5,6,7,8,9,10,11], "labels": false, "title": null}}
 },
 "layer": [
  {"data": {"name": "cm"}, "mark": {"type": "point", "shape": "circle", "filled": true, "fill": "white", "stroke": "black", "strokeWidth": 0.9, "size": 18, "opacity": 1}},
  {"data": {"name": "cn"}, "mark": {"type": "line", "color": "black", "strokeWidth": 1, "interpolate": "monotone"}, "encoding": {"detail": {"field": "s"}}},
  {"data": {"values": [{"e": 0, "y": 0, "y2": 12}]}, "mark": {"type": "rule", "color": "black", "strokeDash": [6, 2, 1, 2], "strokeWidth": 0.8}, "encoding": {"y2": {"field": "y2"}}},
  {"data": {"values": [{"e": 71.9, "y": 5.65, "t": "T = 15K"}, {"e": 60.6, "y": 3.35, "t": "T = 31K"}, {"e": 61.2, "y": 0.83, "t": "T = 57K"}]}, "mark": {"type": "text", "align": "center", "baseline": "middle", "fontSize": 11}, "encoding": {"text": {"field": "t"}}},
  {"data": {"values": [{"e": -14, "y": 11.04, "t": "c)"}]}, "mark": {"type": "text", "align": "center", "baseline": "middle", "fontSize": 17}, "encoding": {"text": {"field": "t"}}}
 ]
},
{
 "data": {"values": [{"e": 0, "y": 0}]}, "mark": {"type": "point", "opacity": 0},
 "encoding": {
  "x": {"field": "e", "type": "quantitative", "scale": {"domain": [100, -29.5], "range": [544, 761], "nice": false, "zero": false}, "axis": {"orient": "top", "offset": -1, "values": [100,90,80,70,60,50,40,30,20,10,0,-10,-20], "labels": false, "title": null}},
  "y": {"field": "y", "type": "quantitative", "scale": {"domain": [0, 12], "range": [277, 1], "nice": false, "zero": false}, "axis": {"orient": "right", "offset": -3, "values": [1,2,3,4,5,6,7,8,9,10,11], "labels": false, "title": null}}
 }
},
{
 "encoding": {
  "x": {"field": "e", "type": "quantitative", "scale": {"domain": [92, -43], "range": [544, 678], "nice": false, "zero": false}, "axis": {"orient": "bottom", "offset": -183, "values": [80,60,40,20,0,-20,-40], "title": null, "labelFontSize": 10, "tickSize": -4, "labelPadding": 11, "domain": false, "zindex": 1}},
  "y": {"field": "y", "type": "quantitative", "scale": {"domain": [0, 1.21], "range": [124, 3], "nice": false, "zero": false}, "axis": {"orient": "right", "offset": -86, "values": [0.2,0.4,0.6,0.8,1.0], "labels": false, "title": null, "tickSize": -4, "domain": false, "zindex": 1}}
 },
 "layer": [
  {"data": {"values": [{"e": 92, "e2": -43, "y": 0, "y2": 1.21}]}, "mark": {"type": "rect", "fill": "white", "stroke": "black", "strokeWidth": 1}, "encoding": {"x2": {"field": "e2"}, "y2": {"field": "y2"}}},
  {"data": {"values": [{"e": 0, "y": 0, "y2": 1.21}]}, "mark": {"type": "rule", "color": "black", "strokeDash": [6, 2, 1, 2], "strokeWidth": 0.8}, "encoding": {"y2": {"field": "y2"}}},
  {"data": {"name": "ci"}, "mark": {"type": "point", "shape": "circle", "filled": true, "fill": "white", "stroke": "black", "strokeWidth": 0.7, "size": 9, "opacity": 1}},
  {"data": {"name": "ci"}, "mark": {"type": "line", "color": "black", "strokeWidth": 0.8, "interpolate": "monotone"}, "encoding": {"detail": {"field": "s"}}},
  {"data": {"values": [{"e": 82.6, "y": 0.44, "t": "CeCu₅.₈Au₀.₂"}, {"e": 63.1, "y": 0.30, "t": "NCA"}, {"e": 63.1, "y": 0.16, "t": "PES"}]}, "mark": {"type": "text", "align": "left", "baseline": "middle", "fontSize": 10}, "encoding": {"text": {"field": "t"}}},
  {"data": {"values": [{"e": 82.9, "e2": 71.9, "y": 0.30}]}, "mark": {"type": "rule", "color": "black", "strokeWidth": 1}, "encoding": {"x2": {"field": "e2"}}},
  {"data": {"values": [{"e": 77.9, "y": 0.16}]}, "mark": {"type": "point", "shape": "circle", "filled": false, "color": "black", "strokeWidth": 1.3, "size": 16, "opacity": 1}}
 ]
}
],
"resolve": {"scale": {"x": "independent", "y": "independent"}}
}
